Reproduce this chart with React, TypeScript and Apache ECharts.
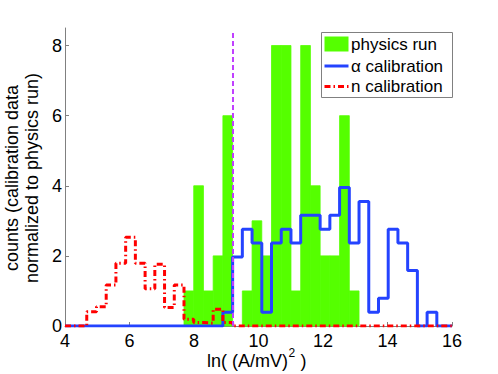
import React, { useEffect, useRef } from "react";
import * as echarts from "echarts";

// Histogram bins (common grid), in ln((A/mV)^2)
const binStart = 4.6745;
const binWidth = 0.30153;

// physics run counts per bin (36 bins)
const physicsRun = [
  0, 0, 0, 0, 0, 0, 0, 0, 0, 0,
  1, 4, 1, 2, 6, 0, 1, 3, 2, 8,
  8, 1, 8, 4, 2, 2, 6, 1, 0, 0,
  0, 0, 0, 0, 0, 0,
];
// alpha calibration (normalized)
const alphaCal = [
  0, 0, 0, 0, 0, 0, 0, 0, 0, 0,
  0, 0, 0, 0, 0.39, 1.97, 2.76, 2.37, 0.39, 2.37,
  2.76, 2.37, 3.16, 3.16, 2.76, 3.16, 3.95, 2.37, 3.55, 0.39,
  0.79, 2.76, 2.37, 1.58, 0, 0.39,
];
// neutron calibration (normalized)
const nCal = [
  0.41, 0.55, 1.17, 1.79, 2.53, 1.79, 1.06, 1.76, 0.53, 1.17,
  0.19, 0.1, 0.08, 0.48, 0.1, 0, 0, 0, 0, 0,
  0, 0, 0, 0, 0, 0, 0, 0, 0, 0,
  0, 0, 0, 0, 0, 0,
];
const seriesNames = ["physics run", "α calibration", "n calibration"];
const xTicks = [4, 6, 8, 10, 12, 14, 16];
const yTicks = [0, 2, 4, 6, 8];
const cutValue = 9.2;
const cutTop = 8.4;

const GREEN = "#55ff00";
const BLUE = "#2443ff";
const RED = "#ff0000";
const MAGENTA = "#c040ff";
const FONT = "Liberation Sans, Arial, sans-serif";
const RED_DASH = [6, 3, 1.5, 3];

const edge = (k: number) => binStart + k * binWidth;

function stepData(vals: number[]) {
  const pts: number[][] = [[4, 0]];
  vals.forEach((v, k) => pts.push([edge(k), v]));
  pts.push([edge(vals.length), 0]);
  pts.push([16, 0]);
  return pts;
}

export default function App() {
  const ref = useRef<HTMLDivElement>(null);
  useEffect(() => {
    document.body.style.margin = "0";
    if (!ref.current) return;
    const chart = echarts.init(ref.current, null, { renderer: "svg" });
    const barData = physicsRun
      .map((v, k) => [edge(k), edge(k + 1), v])
      .filter((d) => d[2] > 0);
    const lx = 321;
    const ly = 32;
    const txt = (text: string, y: number) => ({
      type: "text",
      x: 351,
      y,
      z: 101,
      style: { text, fontSize: 17, fontFamily: FONT, fill: "#000", align: "left", verticalAlign: "middle" },
    });
    chart.setOption({
      animation: false,
      textStyle: { fontFamily: FONT },
      grid: { left: 65, right: 46, top: 28, bottom: 48 },
      xAxis: {
        type: "value",
        min: 4,
        max: 16,
        interval: 2,
        axisLine: { show: true, onZero: false, lineStyle: { color: "#808080", width: 1 } },
        axisTick: { show: true, inside: true, length: 4, lineStyle: { color: "#808080" }, customValues: xTicks },
        axisLabel: { color: "#000", fontSize: 18, fontFamily: FONT, margin: 6, customValues: xTicks },
        splitLine: { show: false },
      },
      yAxis: {
        type: "value",
        min: 0,
        max: 8.5,
        interval: 2,
        axisLine: { show: true, lineStyle: { color: "#808080", width: 1 } },
        axisTick: { show: true, inside: true, length: 4, lineStyle: { color: "#808080" }, customValues: yTicks },
        axisLabel: { color: "#000", fontSize: 18, fontFamily: FONT, margin: 3, customValues: yTicks },
        splitLine: { show: false },
      },
      series: [
        {
          name: seriesNames[0],
          type: "custom",
          itemStyle: { color: GREEN },
          encode: { x: [0, 1], y: 2 },
          data: barData,
          z: 1,
          renderItem: (params: any, api: any) => {
            const p0 = api.coord([api.value(0), api.value(2)]);
            const p1 = api.coord([api.value(1), 0]);
            return {
              type: "rect",
              shape: { x: p0[0], y: p0[1], width: p1[0] - p0[0], height: p1[1] - p0[1] },
              style: { fill: GREEN, stroke: GREEN, lineWidth: 0.8 },
            };
          },
        },
        {
          name: seriesNames[1],
          type: "line",
          step: "end",
          symbol: "none",
          data: stepData(alphaCal),
          lineStyle: { color: BLUE, width: 3 },
          itemStyle: { color: BLUE },
          z: 3,
          markLine: {
            silent: true,
            symbol: "none",
            label: { show: false },
            lineStyle: { color: MAGENTA, width: 2, type: [5, 3] },
            data: [[{ coord: [cutValue, 0] }, { coord: [cutValue, cutTop] }]],
          },
        },
        {
          name: seriesNames[2],
          type: "line",
          step: "end",
          symbol: "none",
          data: stepData(nCal),
          lineStyle: { color: RED, width: 3, type: RED_DASH },
          itemStyle: { color: RED },
          z: 4,
        },
      ],
      graphic: [
        {
          type: "text",
          x: 22,
          y: 178,
          rotation: Math.PI / 2,
          style: {
            text: "counts (calibration data\nnormalized to physics run)",
            fontSize: 18,
            fontFamily: FONT,
            fill: "#000",
            align: "center",
            verticalAlign: "middle",
            lineHeight: 20,
          },
        },
        {
          type: "text",
          x: 207,
          y: 361,
          style: { text: "ln( (A/mV)", fontSize: 18, fontFamily: FONT, fill: "#000", align: "left", verticalAlign: "middle" },
        },
        {
          type: "text",
          x: 288.5,
          y: 353,
          style: { text: "2", fontSize: 12, fontFamily: FONT, fill: "#000", align: "left", verticalAlign: "middle" },
        },
        {
          type: "text",
          x: 295.5,
          y: 361,
          style: { text: " )", fontSize: 18, fontFamily: FONT, fill: "#000", align: "left", verticalAlign: "middle" },
        },
        // legend
        {
          type: "rect",
          z: 100,
          shape: { x: lx + 0.5, y: ly + 0.5, width: 131, height: 65 },
          style: { fill: "#fff", stroke: "#808080", lineWidth: 1 },
        },
        {
          type: "rect",
          z: 101,
          shape: { x: 324.5, y: 36.5, width: 24, height: 15 },
          style: { fill: GREEN },
        },
        txt(seriesNames[0], 44),
        {
          type: "line",
          z: 101,
          shape: { x1: 324.5, y1: 66, x2: 348.5, y2: 66 },
          style: { stroke: BLUE, lineWidth: 3 },
        },
        txt(seriesNames[1], 66),
        {
          type: "line",
          z: 101,
          shape: { x1: 324.5, y1: 86.5, x2: 348.5, y2: 86.5 },
          style: { stroke: RED, lineWidth: 3, lineDash: RED_DASH },
        },
        txt(seriesNames[2], 86.5),
      ],
    });
    return () => chart.dispose();
  }, []);
  return <div ref={ref} style={{ width: 498, height: 374 }} />;
}
